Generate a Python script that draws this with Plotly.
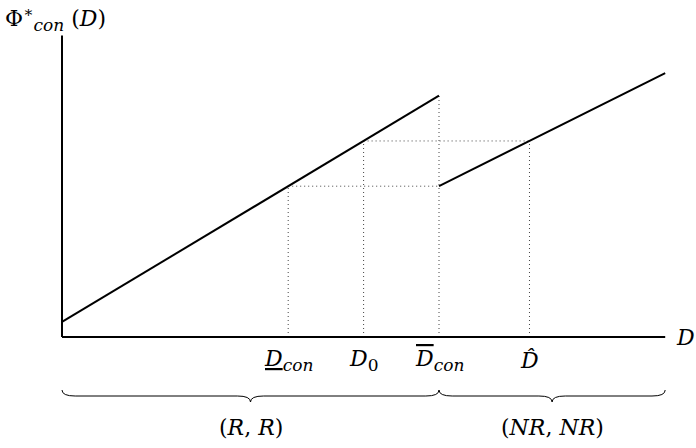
import plotly.graph_objects as go

# ---- data (abstract units) ----
D_con, D_0, D_bar, D_hat = 6.0, 8.0, 10.0, 12.4
line_R_x = [0.0, 10.0]
line_R_y = [0.4, 6.4]
line_NR_x = [10.0, 16.0]
line_NR_y = [4.0, 7.0]
phi_low, phi_high = 4.0, 5.2
x_axis_end, y_axis_end = 16.0, 8.0
SUB = "<sub><span style='font-size:17px'><i>%s</i></span></sub>"
tick_pos = [D_con, D_0, D_bar, D_hat]
tick_labels = [
    "<i><span style='text-decoration:underline'>D</span></i>" + SUB % "con",
    "<i>D</i><sub><span style='font-size:17px'>0</span></sub>",
    "<i><span style='text-decoration:overline'>D</span></i>" + SUB % "con",
    "<i>D\u0302</i>",
]
y_label = "Φ<sup>∗</sup>" + SUB % "con" + " (<i>D</i>)"
x_label = "<i>D</i>"
regime_labels = ["(<i>R</i>, <i>R</i>)", "(<i>NR</i>, <i>NR</i>)"]
regime_bounds = [(0.0, D_bar), (D_bar, 16.0)]

FONT = "DejaVu Serif"
FS = 22
S = 37.7  # px per unit (used only for the view window)

fig = go.Figure()

dot = dict(color="#444", width=1, dash="1px,3px")
def seg(xs, ys, line):
    fig.add_trace(go.Scatter(x=xs, y=ys, mode="lines", line=line,
                             hoverinfo="skip", showlegend=False))

# dotted guides
seg([D_con, D_con], [0, phi_low], dot)
seg([D_0, D_0], [0, phi_high], dot)
seg([D_bar, D_bar], [0, line_R_y[1]], dot)
seg([D_hat, D_hat], [0, phi_high], dot)
seg([D_con, D_bar], [phi_low, phi_low], dot)
seg([D_0, D_hat], [phi_high, phi_high], dot)

solid = dict(color="black", width=2)
seg(line_R_x, line_R_y, solid)
seg(line_NR_x, line_NR_y, solid)
# axes
seg([0, x_axis_end], [0, 0], solid)
seg([0, 0], [0, y_axis_end], solid)

txt = dict(family=FONT, size=FS, color="black")
ann = []
for p, t in zip(tick_pos, tick_labels):
    ann.append(dict(x=p, y=-0.62, text=t, showarrow=False, xanchor="center",
                    yanchor="middle", font=txt))
ann.append(dict(x=x_axis_end + 0.55, y=0, text=x_label, showarrow=False,
                xanchor="center", yanchor="middle", font=txt))
ann.append(dict(x=-0.17, y=(337 - 1) / S, text=y_label,
                showarrow=False, xanchor="center", yanchor="top", font=txt))

shapes = []
y_end, y_line, y_tip = -1.406, -1.565, -1.724
r = 0.35
for (a, b), lab in zip(regime_bounds, regime_labels):
    m = (a + b) / 2
    path = (f"M {a},{y_end} Q {a},{y_line} {a + r},{y_line} "
            f"L {m - r},{y_line} Q {m},{y_line} {m},{y_tip} "
            f"Q {m},{y_line} {m + r},{y_line} "
            f"L {b - r},{y_line} Q {b},{y_line} {b},{y_end}")
    shapes.append(dict(type="path", path=path, xref="x", yref="y",
                       line=dict(color="black", width=1)))
    ann.append(dict(x=m, y=-2.39, text=lab, showarrow=False, xanchor="center",
                    yanchor="middle", font=txt))

fig.update_layout(
    width=696, height=448, autosize=False,
    margin=dict(l=0, r=0, t=0, b=0),
    paper_bgcolor="white", plot_bgcolor="white",
    xaxis=dict(visible=False, range=[-62 / S, (696 - 62) / S], fixedrange=True),
    yaxis=dict(visible=False, range=[(337 - 448) / S, 337 / S], fixedrange=True),
    annotations=ann, shapes=shapes, showlegend=False,
)
fig.write_html("out.html", config={"displayModeBar": False},
               post_script="document.body.style.margin='0';")
